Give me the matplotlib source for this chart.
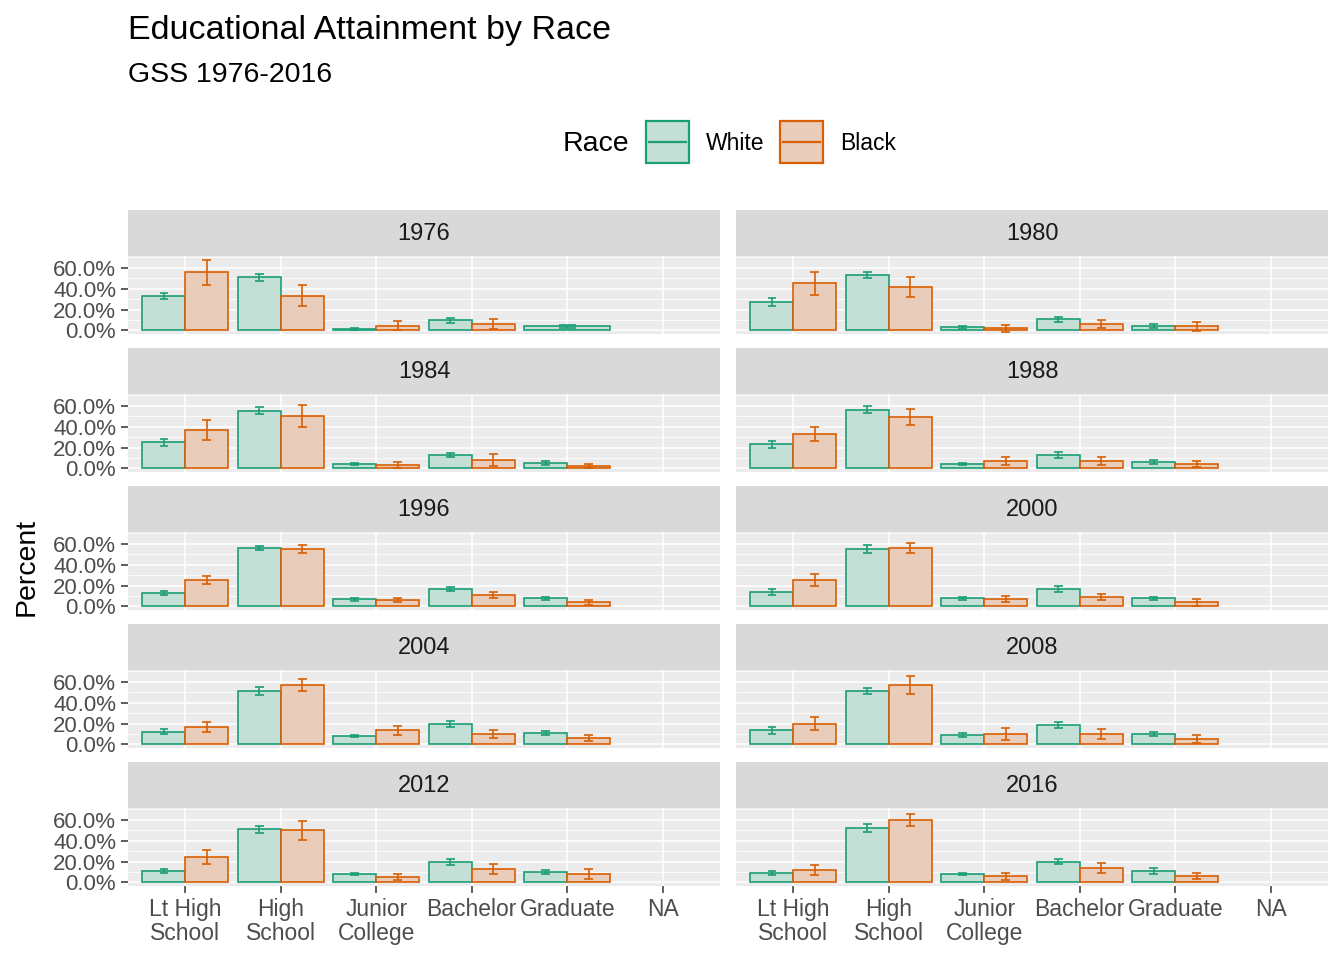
import numpy as np
import matplotlib.pyplot as plt
from matplotlib.patches import Rectangle
from matplotlib.lines import Line2D

plt.rcParams['font.family'] = ['Liberation Sans', 'DejaVu Sans']

# ---- data (percent of respondents, with error margins) ----
years = [1976, 1980, 1984, 1988, 1996, 2000, 2004, 2008, 2012, 2016]
degrees = ['Lt High\nSchool', 'High\nSchool', 'Junior\nCollege', 'Bachelor', 'Graduate', 'NA']
races = ['White', 'Black']

white_pct = [
    [33.0, 51.0, 1.3, 9.8, 3.9],
    [27.5, 53.0, 3.0, 10.8, 3.9],
    [25.0, 55.4, 4.3, 13.1, 5.2],
    [23.0, 56.4, 4.3, 13.1, 6.2],
    [12.8, 56.1, 6.9, 16.7, 7.9],
    [13.8, 55.1, 7.9, 16.7, 7.9],
    [12.4, 51.1, 8.1, 19.9, 11.1],
    [13.4, 51.1, 9.1, 18.9, 10.1],
    [11.0, 51.0, 8.0, 20.0, 10.0],
    [9.0, 52.0, 8.0, 20.0, 11.0],
]
white_err = [
    [3.2, 3.5, 0.8, 2.3, 1.3],
    [3.6, 3.0, 1.3, 2.4, 2.0],
    [3.6, 3.6, 1.3, 2.1, 1.6],
    [3.6, 3.6, 1.0, 2.6, 1.6],
    [2.0, 2.3, 1.6, 2.1, 1.6],
    [2.5, 3.6, 1.3, 2.5, 1.5],
    [2.0, 3.6, 1.0, 2.8, 2.2],
    [2.9, 2.8, 1.6, 2.8, 2.0],
    [2.2, 3.2, 1.3, 2.8, 2.2],
    [2.0, 3.7, 1.3, 2.7, 2.5],
]
black_pct = [
    [56.0, 33.4, 4.3, 6.2, None],
    [45.2, 41.3, 2.3, 6.2, 3.9],
    [36.7, 50.5, 3.3, 8.2, 2.3],
    [32.8, 49.5, 7.2, 7.2, 4.3],
    [25.6, 55.1, 5.9, 10.8, 3.9],
    [25.6, 56.1, 6.9, 8.9, 3.9],
    [16.9, 57.0, 13.4, 10.1, 6.2],
    [19.9, 57.0, 10.1, 10.1, 5.2],
    [24.3, 50.0, 5.0, 13.0, 8.0],
    [12.0, 60.0, 6.0, 14.0, 6.0],
]
black_err = [
    [12.0, 10.0, 4.3, 4.9, None],
    [11.0, 9.5, 3.4, 4.3, 4.0],
    [9.5, 10.3, 3.1, 5.9, 2.0],
    [6.5, 7.5, 3.6, 4.0, 2.8],
    [4.0, 3.9, 2.1, 3.1, 2.1],
    [5.9, 5.0, 3.0, 3.0, 3.0],
    [4.9, 5.5, 4.6, 3.6, 2.6],
    [6.0, 9.0, 5.5, 4.7, 4.0],
    [7.0, 9.3, 2.8, 4.7, 4.7],
    [4.7, 6.0, 3.3, 5.0, 2.7],
]

# ---- style ----
W, H = 1344, 960
green, orange = '#1B9E77', '#D95F02'
green_fill = '#C4DFD6'
orange_fill = '#E9CDBA'
panel_bg = '#EBEBEB'
strip_bg = '#D9D9D9'
tick_col = '#4D4D4D'

fig = plt.figure(figsize=(13.44, 9.6), dpi=100)


def fx(px):
    return px / W


def fy(py):
    return 1 - py / H


col_x = [128, 736]
panel_w = 592
strip_h = 46
panel_h = 78
row_top = [210, 348, 486, 624, 762]

ymax = max(p + e for pr, er in zip(black_pct, black_err) for p, e in zip(pr, er) if p is not None)
ylim = (-0.05 * ymax, ymax * 1.05)
xs = np.arange(len(degrees))
bw = 0.45
cap = 0.045

for i, yr in enumerate(years):
    r, c = divmod(i, 2)
    x0, top = col_x[c], row_top[r]
    # strip
    fig.patches.append(Rectangle((fx(x0), fy(top + strip_h)), fx(panel_w), strip_h / H,
                                 transform=fig.transFigure, facecolor=strip_bg,
                                 edgecolor='none', zorder=0))
    fig.text(fx(x0 + panel_w / 2), fy(top + strip_h / 2 + 1), str(yr), ha='center', va='center',
             fontsize=17, color='#1A1A1A')
    ax = fig.add_axes([fx(x0), fy(top + strip_h + panel_h), fx(panel_w), panel_h / H])
    ax.set_facecolor(panel_bg)
    for s in ax.spines.values():
        s.set_visible(False)
    ax.set_xlim(-0.6, len(degrees) - 0.4)
    ax.set_ylim(*ylim)
    ax.set_yticks([0, 20, 40, 60])
    ax.set_yticks([10, 30, 50, 70], minor=True)
    ax.set_xticks(xs)
    ax.grid(True, which='major', color='white', linewidth=1.1)
    ax.grid(True, which='minor', axis='y', color='white', linewidth=0.55)
    ax.set_axisbelow(True)
    ax.tick_params(which='minor', length=0)
    ax.tick_params(which='major', length=5, width=1.1, color='#333333',
                   labelcolor=tick_col)

    for j in range(len(degrees) - 1):
        wv, we = white_pct[i][j], white_err[i][j]
        bv, be = black_pct[i][j], black_err[i][j]
        if bv is None:
            groups = [(j, 2 * bw, wv, we, green, green_fill, 2 * cap)]
        else:
            groups = [(j - bw / 2, bw, wv, we, green, green_fill, cap),
                      (j + bw / 2, bw, bv, be, orange, orange_fill, cap)]
        for xc, w, v, e, ec, fc, cw in groups:
            ax.bar(xc, v, width=w, color=fc, edgecolor=ec, linewidth=1.2, zorder=2)
            ax.errorbar(xc, v, yerr=e, fmt='none', ecolor=ec, elinewidth=1.2,
                        capsize=0, zorder=3)
            ax.hlines([v - e, v + e], xc - cw, xc + cw, colors=ec, linewidth=1.2, zorder=3)

    if c == 0:
        ax.set_yticklabels(['0.0%', '20.0%', '40.0%', '60.0%'], fontsize=16)
    else:
        ax.tick_params(axis='y', which='both', length=0, labelleft=False)
    if r == len(row_top) - 1:
        ax.set_xticklabels(degrees, fontsize=16.5, linespacing=1.05)
    else:
        ax.tick_params(axis='x', length=0, labelbottom=False)

# titles
fig.text(fx(128), fy(30), 'Educational Attainment by Race', fontsize=24.5, ha='left', va='center')
fig.text(fx(128), fy(75), 'GSS 1976-2016', fontsize=20.5, ha='left', va='center')
fig.text(fx(27), fy(567), 'Percent', fontsize=20.5, rotation=90, ha='center', va='center')

# legend drawn by hand: title left of the two keys
fig.text(fx(563), fy(144), 'Race', fontsize=20.5, ha='left', va='center')
for kx, lab, ec, fc in zip([646, 780], races, [green, orange], [green_fill, orange_fill]):
    fig.patches.append(Rectangle((fx(kx), fy(163)), fx(43), 42 / H, transform=fig.transFigure,
                                 facecolor=fc, edgecolor=ec, linewidth=1.6))
    fig.lines.append(Line2D([fx(kx + 3), fx(kx + 40)], [fy(142), fy(142)],
                            transform=fig.transFigure, color=ec, linewidth=1.6))
    fig.text(fx(kx + 60), fy(144), lab, fontsize=16.5, ha='left', va='center')

fig.savefig('out.png', dpi=100)
